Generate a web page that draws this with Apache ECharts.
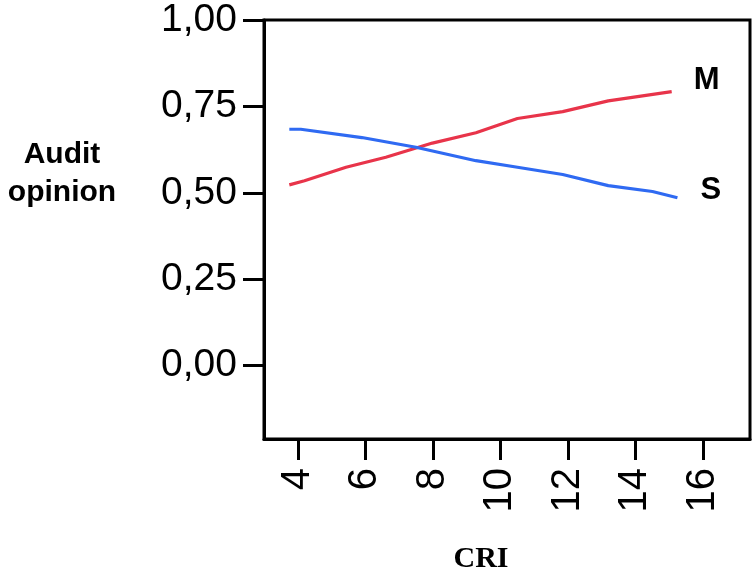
<!DOCTYPE html>
<html>
<head>
<meta charset="utf-8">
<script src="https://cdn.jsdelivr.net/npm/echarts@6/dist/echarts.min.js"></script>
<style>
  html, body { margin: 0; padding: 0; background: #fff; }
  #main { width: 753px; height: 577px; }
</style>
</head>
<body>
<div id="main"></div>
<script>
// 数据：CRI（横轴）与审计意见（纵轴）
var xTicks = [4, 6, 8, 10, 12, 14, 16];
var yTicks = [0, 0.25, 0.5, 0.75, 1];

var mX = [3.75, 4.2, 5.43, 6.61, 7.99, 9.28, 10.51, 11.85, 13.2, 15.08];
var mY = [0.523, 0.535, 0.574, 0.603, 0.644, 0.674, 0.715, 0.735, 0.766, 0.793];

var sX = [3.75, 4.09, 5.9, 7.5, 9.28, 10.51, 11.85, 13.2, 14.51, 15.25];
var sY = [0.684, 0.684, 0.66, 0.632, 0.593, 0.574, 0.553, 0.521, 0.504, 0.486];

function pairs(xs, ys) {
    var out = [];
    for (var i = 0; i < xs.length; i++) {
        out.push([xs[i], ys[i]]);
    }
    return out;
}

var myChart = echarts.init(document.getElementById('main'));
var option = {
    animation: false,
    backgroundColor: '#fff',
    grid: {
        left: 264, top: 20, right: 3, bottom: 138,
        show: true, borderColor: '#000', borderWidth: 3
    },
    xAxis: {
        type: 'value',
        min: 3,
        max: 17.4,
        splitLine: { show: false },
        axisLine: { onZero: false, lineStyle: { color: '#000', width: 3 } },
        axisTick: { customValues: xTicks, length: 21, lineStyle: { color: '#000', width: 3 } },
        axisLabel: {
            customValues: xTicks,
            rotate: 90,
            margin: 29,
            color: '#000',
            fontFamily: 'Liberation Sans, Arial',
            fontSize: 40
        }
    },
    yAxis: {
        type: 'value',
        min: -0.212,
        max: 1,
        splitLine: { show: false },
        axisLine: { onZero: false, lineStyle: { color: '#000', width: 3 } },
        axisTick: { customValues: yTicks, length: 21, lineStyle: { color: '#000', width: 3 } },
        axisLabel: {
            customValues: yTicks,
            margin: 27,
            color: '#000',
            fontFamily: 'Liberation Sans, Arial',
            fontSize: 39,
            formatter: function (v) { return v.toFixed(2).replace('.', ','); }
        }
    },
    series: [{
        name: 'M',
        type: 'line',
        data: pairs(mX, mY),
        showSymbol: false,
        lineStyle: { color: '#e8344a', width: 3.2 },
        endLabel: {
            show: true,
            formatter: 'M',
            offset: [14, -11],
            color: '#000',
            fontFamily: 'Liberation Sans, Arial',
            fontWeight: 'bold',
            fontSize: 31
        }
    }, {
        name: 'S',
        type: 'line',
        data: pairs(sX, sY),
        showSymbol: false,
        lineStyle: { color: '#2f6af2', width: 3.2 },
        endLabel: {
            show: true,
            formatter: 'S',
            offset: [15, -7],
            color: '#000',
            fontFamily: 'Liberation Sans, Arial',
            fontWeight: 'bold',
            fontSize: 31
        }
    }],
    graphic: [{
        type: 'text',
        style: {
            text: 'Audit\nopinion',
            x: 62, y: 174,
            align: 'center',
            verticalAlign: 'middle',
            lineHeight: 38,
            font: 'bold 30px "Liberation Sans", Arial',
            fill: '#000'
        }
    }, {
        type: 'text',
        style: {
            text: 'CRI',
            x: 481, y: 559,
            align: 'center',
            verticalAlign: 'middle',
            font: 'bold 30px "Liberation Serif", "Times New Roman"',
            fill: '#000'
        }
    }]
};
myChart.setOption(option);
</script>
</body>
</html>
